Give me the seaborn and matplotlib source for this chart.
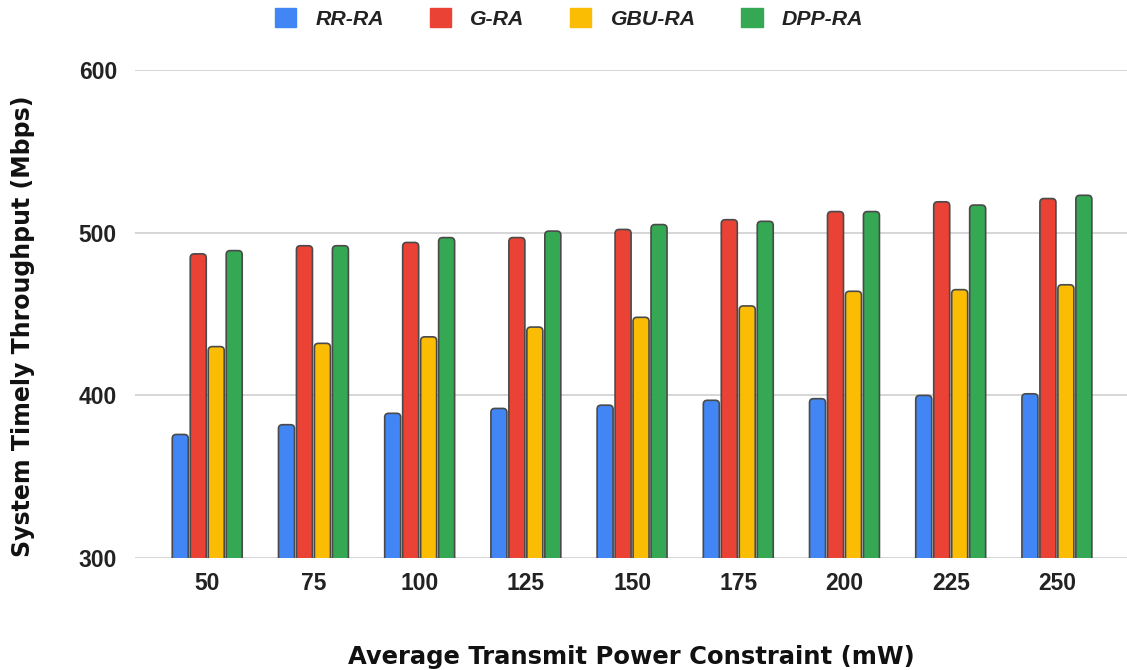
import matplotlib
matplotlib.use("Agg")
import matplotlib.pyplot as plt
from matplotlib.patches import FancyBboxPatch, Patch
import seaborn as sns
import pandas as pd

power = ["50", "75", "100", "125", "150", "175", "200", "225", "250"]
rr_ra = [376, 382, 389, 392, 394, 397, 398, 400, 401]
g_ra = [487, 492, 494, 497, 502, 508, 513, 519, 521]
gbu_ra = [430, 432, 436, 442, 448, 455, 464, 465, 468]
dpp_ra = [489, 492, 497, 501, 505, 507, 513, 517, 523]
series = ["RR-RA", "G-RA", "GBU-RA", "DPP-RA"]
colors = ["#4285F4", "#EA4335", "#FBBC04", "#34A853"]

rows = []
for name, vals in zip(series, [rr_ra, g_ra, gbu_ra, dpp_ra]):
    for p, v in zip(power, vals):
        rows.append({"power": p, "algo": name, "value": v})
df = pd.DataFrame(rows)

sns.set_theme(style="white")
fig = plt.figure(figsize=(11.27, 6.70), dpi=100)
ax = fig.add_axes([0.1198, 0.167, 0.8802, 0.7285])

sns.barplot(data=df, x="power", y="value", hue="algo", order=power,
            hue_order=series, palette=colors, width=0.677, gap=0.11,
            edgecolor="#4a4a4a", linewidth=1.2, saturation=1, ax=ax,
            legend=False)

ax.set_ylim(300, 600)
ax.set_xlim(-0.68, 8.66)
ax.set_yticks([300, 400, 500, 600])
ax.yaxis.grid(True, color="#cfcfcf", linewidth=1.2)
ax.set_axisbelow(True)
for s in ax.spines.values():
    s.set_visible(False)

# rounded bar tops
fig.canvas.draw()
x_per_px = (ax.get_xlim()[1] - ax.get_xlim()[0]) / ax.bbox.width
y_per_px = (ax.get_ylim()[1] - ax.get_ylim()[0]) / ax.bbox.height
aspect = y_per_px / x_per_px
r = 4 * x_per_px
for bar in list(ax.patches):
    x, y = bar.get_x(), bar.get_y()
    w, h = bar.get_width(), bar.get_height()
    fb = FancyBboxPatch((x, y), w, h,
                        boxstyle=f"round,pad=0,rounding_size={r}",
                        mutation_aspect=aspect,
                        facecolor=bar.get_facecolor(),
                        edgecolor=bar.get_edgecolor(),
                        linewidth=bar.get_linewidth(), zorder=bar.get_zorder())
    bar.remove()
    ax.add_patch(fb)

tick_font = dict(family="Liberation Sans", weight="bold", size=16.5)
ax.set_xticks(range(len(power)))
ax.set_xticklabels(power, **tick_font, color="#222222")
ax.set_yticklabels(["300", "400", "500", "600"], **tick_font, color="#222222")
ax.tick_params(axis="x", length=0, pad=10)
ax.tick_params(axis="y", length=0, pad=13)

ax.set_xlabel("Average Transmit Power Constraint (mW)", fontsize=17.5,
              fontweight="bold", family="DejaVu Sans", labelpad=36, color="#111111")
ax.set_ylabel("System Timely Throughput (Mbps)", fontsize=17,
              fontweight="bold", family="DejaVu Sans", color="#111111")
ax.yaxis.set_label_coords(-0.101, 0.475)

handles = [Patch(facecolor=c, edgecolor=c) for c in colors]
leg = fig.legend(handles, series, loc="upper center", bbox_to_anchor=(0.505, 1.016),
                 ncol=4, frameon=False, handlelength=1.0, handleheight=1.0,
                 handletextpad=0.9, columnspacing=2.15,
                 prop=dict(family="Liberation Sans", weight="bold", style="italic", size=15.3))
for t in leg.get_texts():
    t.set_color("#222222")

fig.savefig("out.png", dpi=100)
